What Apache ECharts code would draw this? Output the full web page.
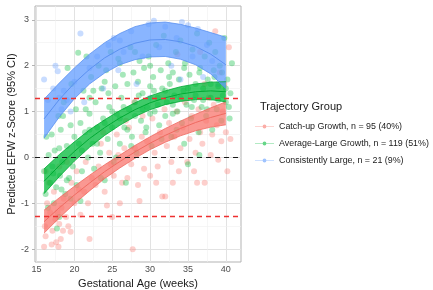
<!DOCTYPE html>
<html>
<head>
<meta charset="utf-8">
<script src="https://cdn.jsdelivr.net/npm/echarts@6/dist/echarts.min.js"></script>
<style>
  html, body { margin: 0; padding: 0; background: #fff; }
  #chart { width: 433px; height: 290px; }
</style>
</head>
<body>
<div id="chart"></div>
<script>
// fitted trajectories (weeks 16..40, step 2)
var ages = [16, 18, 20, 22, 24, 26, 28, 30, 32, 34, 36, 38, 40];

var catchMean  = [-1.40, -1.10, -0.82, -0.56, -0.31, -0.09, 0.12, 0.31, 0.48, 0.63, 0.76, 0.87, 0.96];
var catchLow   = [-1.65, -1.32, -1.01, -0.73, -0.46, -0.23, -0.02, 0.17, 0.33, 0.47, 0.58, 0.66, 0.71];
var catchHigh  = [-1.15, -0.88, -0.63, -0.39, -0.16, 0.05, 0.26, 0.45, 0.63, 0.79, 0.94, 1.08, 1.21];

var avgMean    = [-0.52, -0.18, 0.13, 0.41, 0.65, 0.86, 1.04, 1.19, 1.30, 1.38, 1.43, 1.45, 1.43];
var avgLow     = [-0.79, -0.42, -0.08, 0.22, 0.48, 0.70, 0.89, 1.04, 1.15, 1.22, 1.26, 1.26, 1.21];
var avgHigh    = [-0.25, 0.06, 0.34, 0.60, 0.82, 1.02, 1.19, 1.34, 1.45, 1.54, 1.60, 1.64, 1.65];

var largeMean  = [0.84, 1.26, 1.62, 1.92, 2.17, 2.36, 2.49, 2.56, 2.57, 2.52, 2.42, 2.25, 2.02];
var largeLow   = [0.42, 0.88, 1.28, 1.60, 1.84, 2.02, 2.13, 2.19, 2.20, 2.14, 2.02, 1.82, 1.50];
var largeHigh  = [1.27, 1.62, 1.95, 2.25, 2.50, 2.70, 2.85, 2.93, 2.95, 2.90, 2.82, 2.72, 2.62];

// observed EFW z-scores [week, z]
var catchPts = [
  [16.0,-1.95],[16.2,-1.72],[16.1,-1.5],[16.4,-1.0],[16.2,-0.3],[16.6,-0.55],[16.8,-1.2],[17.0,-1.9],
  [17.1,-1.6],[17.3,-0.75],[17.5,-1.35],[17.6,-1.85],[17.9,-1.95],[18.0,-1.45],[18.2,-1.78],[18.3,-1.1],
  [18.5,-1.6],[18.6,-0.9],[18.9,-1.3],[19.2,-1.5],[19.5,-1.62],[19.6,-0.55],[20.0,-1.0],[20.3,-0.3],
  [20.8,-1.25],[21.3,-0.75],[21.5,-0.1],[22.0,-1.78],[22.3,-0.45],[22.8,-0.6],[23.2,-0.2],[23.5,0.3],
  [24.0,-0.75],[24.3,-1.05],[24.6,0.1],[25.0,-1.3],[25.2,-0.4],[25.6,0.5],[26.0,-1.0],[26.3,-0.55],
  [26.6,0.2],[27.0,-0.45],[27.2,0.65],[27.7,-2.0],[28.0,0.2],[28.4,-0.6],[28.6,-0.95],[28.9,0.45],
  [29.2,-0.25],[29.6,0.35],[30.0,-0.4],[30.3,0.85],[30.6,0.1],[31.0,-0.2],[31.3,0.55],[31.6,-0.85],
  [32.0,-0.85],[32.2,0.25],[32.5,0.75],[32.8,-0.1],[33.0,-0.55],[33.2,0.45],[33.5,1.0],[33.8,-0.3],
  [34.0,0.2],[34.3,0.65],[34.6,1.2],[34.9,-0.1],[35.2,0.4],[35.5,0.9],[35.8,-0.3],[36.0,0.1],
  [36.2,-0.55],[36.4,1.05],[36.6,0.55],[36.9,0.3],[37.2,-0.55],[37.4,0.8],[37.7,1.3],[38.0,0.05],
  [38.2,0.5],[38.4,1.15],[38.6,2.75],[38.8,0.7],[39.0,-0.05],[39.2,1.85],[39.4,0.35],[39.6,1.0],
  [39.8,1.6],[40.0,0.55],[40.2,-0.3],[40.4,2.4],[40.6,0.4],[24.8,-0.15],[25.8,0.05],[26.8,0.8],
  [27.5,-0.15],[29.0,0.9],[30.8,-0.55],[27.9,1.2],[31.9,1.05],[36.6,2.3],[20.6,-0.7],[19.0,-0.1],
  [21.8,-1.0],[23.8,0.55],[18.0,-0.2],[17.8,-1.2],[33.6,2.25],[37.2,1.6]
];
var avgPts = [
  [16.0,-0.3],[16.2,-0.8],[16.3,0.45],[16.5,-1.1],[16.6,0.05],[16.8,-0.55],[17.0,0.5],[17.1,-0.2],
  [17.3,-1.0],[17.4,0.15],[17.6,-0.65],[17.7,-1.55],[17.9,0.9],[18.0,-1.3],[18.1,-0.4],[18.2,0.6],
  [18.4,-0.1],[18.5,0.9],[18.6,1.2],[18.8,-0.8],[19.0,0.25],[19.1,1.95],[19.3,-0.45],[19.5,0.7],
  [19.6,1.6],[19.8,-0.2],[20.0,0.45],[20.2,1.05],[20.3,-0.6],[20.5,2.28],[20.6,0.3],[20.8,0.75],
  [21.0,-0.3],[21.2,1.45],[21.4,0.55],[21.6,2.2],[21.8,0.0],[22.0,0.95],[22.2,1.75],[22.4,0.3],
  [22.6,-0.25],[22.8,1.2],[23.0,0.65],[23.2,2.0],[23.4,0.1],[23.6,1.5],[23.8,0.85],[24.0,-0.5],
  [24.2,1.9],[24.4,0.4],[24.6,1.1],[24.8,2.3],[25.0,0.65],[25.2,-0.1],[25.4,1.55],[25.6,0.95],
  [25.8,2.15],[26.0,0.3],[26.2,1.3],[26.4,1.8],[26.6,0.65],[26.8,-0.55],[27.0,1.6],[27.2,1.05],
  [27.4,2.4],[27.6,0.45],[27.8,1.85],[28.0,1.2],[28.2,0.1],[28.4,1.65],[28.6,2.1],[28.8,0.8],
  [29.0,1.4],[29.2,1.95],[29.4,0.55],[29.6,1.1],[29.8,2.2],[30.0,1.55],[30.2,0.25],[30.4,1.75],
  [30.6,1.0],[30.8,2.45],[31.0,1.3],[31.2,0.7],[31.4,1.9],[31.6,1.5],[31.8,2.65],[32.0,0.9],
  [32.2,1.2],[32.4,2.05],[32.6,1.6],[32.8,0.45],[33.0,1.85],[33.2,1.35],[33.4,2.3],[33.6,1.0],
  [33.8,1.7],[34.0,2.55],[34.2,0.75],[34.4,1.45],[34.6,2.05],[34.8,1.15],[35.0,-0.15],[35.2,1.8],
  [35.4,0.85],[35.6,2.35],[35.8,1.25],[36.0,1.6],[36.2,2.7],[36.4,0.55],[36.6,1.95],[36.8,1.1],
  [37.0,1.5],[37.2,2.2],[37.4,0.9],[37.6,1.7],[37.8,2.5],[38.0,1.3],[38.2,0.6],[38.4,1.9],
  [38.6,2.3],[38.8,1.05],[39.0,1.55],[39.2,2.0],[39.4,0.8],[39.6,1.35],[39.8,2.6],[40.0,1.2],
  [40.2,1.7],[40.5,0.85],[40.6,1.4],[40.8,2.05],
  [21.0,0.15],[22.0,0.6],[23.0,0.3],[24.0,0.75],[25.0,1.0],[26.0,0.85],[27.0,0.6],[28.0,0.9],
  [29.0,1.05],[30.0,0.95],[31.0,1.15],[32.0,1.45],[33.0,1.15],[34.0,1.3],[35.0,1.5],[36.0,1.35],
  [37.0,1.25],[38.0,1.6],[39.0,1.25],[40.0,1.5],[33.5,0.6],[34.5,0.3],[36.5,0.05],[31.5,0.4],
  [29.5,0.65],[27.5,0.25],[25.5,0.0],[23.5,-0.45],[19.5,-0.9],[18.3,-0.7],[17.2,-0.35],[20.8,-0.95],
  [21.5,1.05],[22.5,1.45],[24.5,1.4],[26.5,1.1],[28.5,1.35],[30.5,1.45],[32.5,1.75],[34.5,1.95],
  [36.5,1.85],[38.5,1.75],[39.5,1.85],[40.4,1.1],[35.5,1.1],[37.5,1.05],[33.0,0.95],[30.0,2.0],
  [28.0,2.3],[26.0,2.05],[24.0,1.65],[22.0,1.3],[18.0,0.2],[19.0,-0.5]
];
var largePts = [
  [16.0,1.7],[16.5,1.25],[17.2,1.5],[17.5,2.0],[17.8,1.88],[18.0,1.3],[18.3,1.05],[18.6,1.45],
  [19.0,1.25],[19.5,1.0],[20.0,1.65],[20.8,2.7],[21.3,1.2],[22.0,1.95],[23.0,2.2],[23.8,1.5],
  [24.5,2.45],[25.2,2.6],[25.8,1.9],[26.5,2.3],[27.5,2.75],[28.2,1.6],[29.0,2.2],[29.8,2.9],
  [30.5,2.98],[31.2,2.4],[32.0,2.85],[32.8,2.0],[33.5,2.6],[34.2,2.95],[35.0,2.88],[35.6,2.2],
  [36.3,2.8],[37.0,1.75],[37.5,2.45],[38.2,2.1],[39.0,1.6],[30.0,1.3],[34.0,1.7],[26.0,2.55]
];

var groupNames = ['Catch-up Growth, n = 95 (40%)', 'Average-Large Growth, n = 119 (51%)', 'Consistently Large, n = 21 (9%)'];
var xTicks = [15, 20, 25, 30, 35, 40];
var yTicks = [-2, -1, 0, 1, 2, 3];
var xMinor = [17.5, 22.5, 27.5, 32.5, 37.5];
var yMinor = [-1.5, -0.5, 0.5, 1.5, 2.5];
var cutoffs = [1.28, -1.28];

var colors = ['#F8766D', '#00BA38', '#619CFF'];
var lineColors = ['#ef6a61', '#00a933', '#5a90f0'];

var myChart = echarts.init(document.getElementById('chart'));

function pairs(xs, ys) {
    return xs.map(function (x, i) { return [x, ys[i]]; });
}

function ribbon(low, high, color, op) {
    return {
        type: 'custom',
        silent: true,
        z: 3,
        data: [[ages[0], low[0]]],
        renderItem: function (params, api) {
            var pts = [];
            for (var i = 0; i < ages.length; i++) pts.push(api.coord([ages[i], high[i]]));
            for (var j = ages.length - 1; j >= 0; j--) pts.push(api.coord([ages[j], low[j]]));
            return { type: 'polygon', shape: { points: pts }, style: { fill: color, opacity: op } };
        }
    };
}

function curve(ys, color, w) {
    return {
        type: 'line', silent: true, z: 4, data: pairs(ages, ys), showSymbol: false, symbol: 'none',
        lineStyle: { color: color, width: w }
    };
}

function scatter(name, pts, color) {
    return {
        name: name, type: 'scatter', data: pts, symbolSize: 6, silent: true, z: 2,
        itemStyle: { color: color, opacity: 0.35 }
    };
}

var gridLines = [];
xTicks.forEach(function (v) { gridLines.push({ xAxis: v, lineStyle: { color: '#e2e2e2', width: 1, type: 'solid' } }); });
yTicks.forEach(function (v) { gridLines.push({ yAxis: v, lineStyle: { color: '#e2e2e2', width: 1, type: 'solid' } }); });
xMinor.forEach(function (v) { gridLines.push({ xAxis: v, lineStyle: { color: '#f0f0f0', width: 0.6, type: 'solid' } }); });
yMinor.forEach(function (v) { gridLines.push({ yAxis: v, lineStyle: { color: '#f0f0f0', width: 0.6, type: 'solid' } }); });

var refLines = [{ yAxis: 0, lineStyle: { color: '#1a1a1a', width: 1.2, type: [5, 4] } }];
cutoffs.forEach(function (v) { refLines.push({ yAxis: v, lineStyle: { color: '#ee3030', width: 1.3, type: [5, 4] } }); });

var legendIcon = 'path://M0,2.5H30V3.5H0Z M12,3A3,3 0 1,1 18,3A3,3 0 1,1 12,3Z';

var option = {
    animation: false,
    color: colors,
    textStyle: { fontFamily: 'Liberation Sans, Arial, sans-serif' },
    grid: {
        left: 35, right: 192, top: 6, bottom: 28, outerBoundsMode: 'none',
        show: true, borderColor: '#b3b3b3', borderWidth: 1, backgroundColor: 'transparent'
    },
    title: {
        text: 'Trajectory Group', left: 255, top: 96,
        textStyle: { fontSize: 11, fontWeight: 'normal', color: '#1a1a1a', fontFamily: 'Liberation Sans, Arial, sans-serif' }
    },
    legend: {
        data: groupNames.map(function (n) { return { name: n, icon: legendIcon }; }),
        orient: 'vertical', left: 255, top: 122, itemGap: 8, itemWidth: 19, itemHeight: 6, padding: 0,
        itemStyle: { opacity: 0.6 },
        textStyle: { fontSize: 8.9, color: '#1a1a1a' },
        selectedMode: false
    },
    xAxis: {
        type: 'value', min: 14.8, max: 42,
        name: 'Gestational Age (weeks)', nameLocation: 'middle', nameGap: 6,
        nameTextStyle: { fontSize: 11, color: '#1a1a1a' },
        axisLine: { show: false },
        axisTick: { show: true, length: 3, lineStyle: { color: '#b3b3b3' }, customValues: xTicks },
        axisLabel: { fontSize: 9, color: '#4d4d4d', margin: 3, customValues: xTicks },
        splitLine: { show: false }
    },
    yAxis: {
        type: 'value', min: -2.28, max: 3.3,
        name: 'Predicted EFW z-Score (95% CI)', nameLocation: 'middle', nameGap: 14,
        nameTextStyle: { fontSize: 11, color: '#1a1a1a' },
        axisLine: { show: false },
        axisTick: { show: true, length: 3, lineStyle: { color: '#b3b3b3' }, customValues: yTicks },
        axisLabel: { fontSize: 9, color: '#4d4d4d', margin: 6, customValues: yTicks },
        splitLine: { show: false }
    },
    series: [
        {
            type: 'scatter', data: [], silent: true, z: 1,
            markLine: { silent: true, z: 1, symbol: ['none', 'none'], label: { show: false }, data: gridLines }
        },
        scatter(groupNames[0], catchPts, colors[0]),
        scatter(groupNames[1], avgPts, colors[1]),
        scatter(groupNames[2], largePts, colors[2]),
        ribbon(catchLow, catchHigh, colors[0], 0.75),
        ribbon(avgLow, avgHigh, colors[1], 0.75),
        ribbon(largeLow, largeHigh, colors[2], 0.75),
        curve(catchMean, lineColors[0], 1), curve(catchLow, lineColors[0], 0.8), curve(catchHigh, lineColors[0], 0.8),
        curve(avgMean, lineColors[1], 1), curve(avgLow, lineColors[1], 0.8), curve(avgHigh, lineColors[1], 0.8),
        curve(largeMean, lineColors[2], 1), curve(largeLow, lineColors[2], 0.8), curve(largeHigh, lineColors[2], 0.8),
        {
            type: 'scatter', data: [], silent: true, z: 6,
            markLine: { silent: true, z: 6, symbol: ['none', 'none'], label: { show: false }, data: refLines }
        }
    ]
};

myChart.setOption(option);
</script>
</body>
</html>
